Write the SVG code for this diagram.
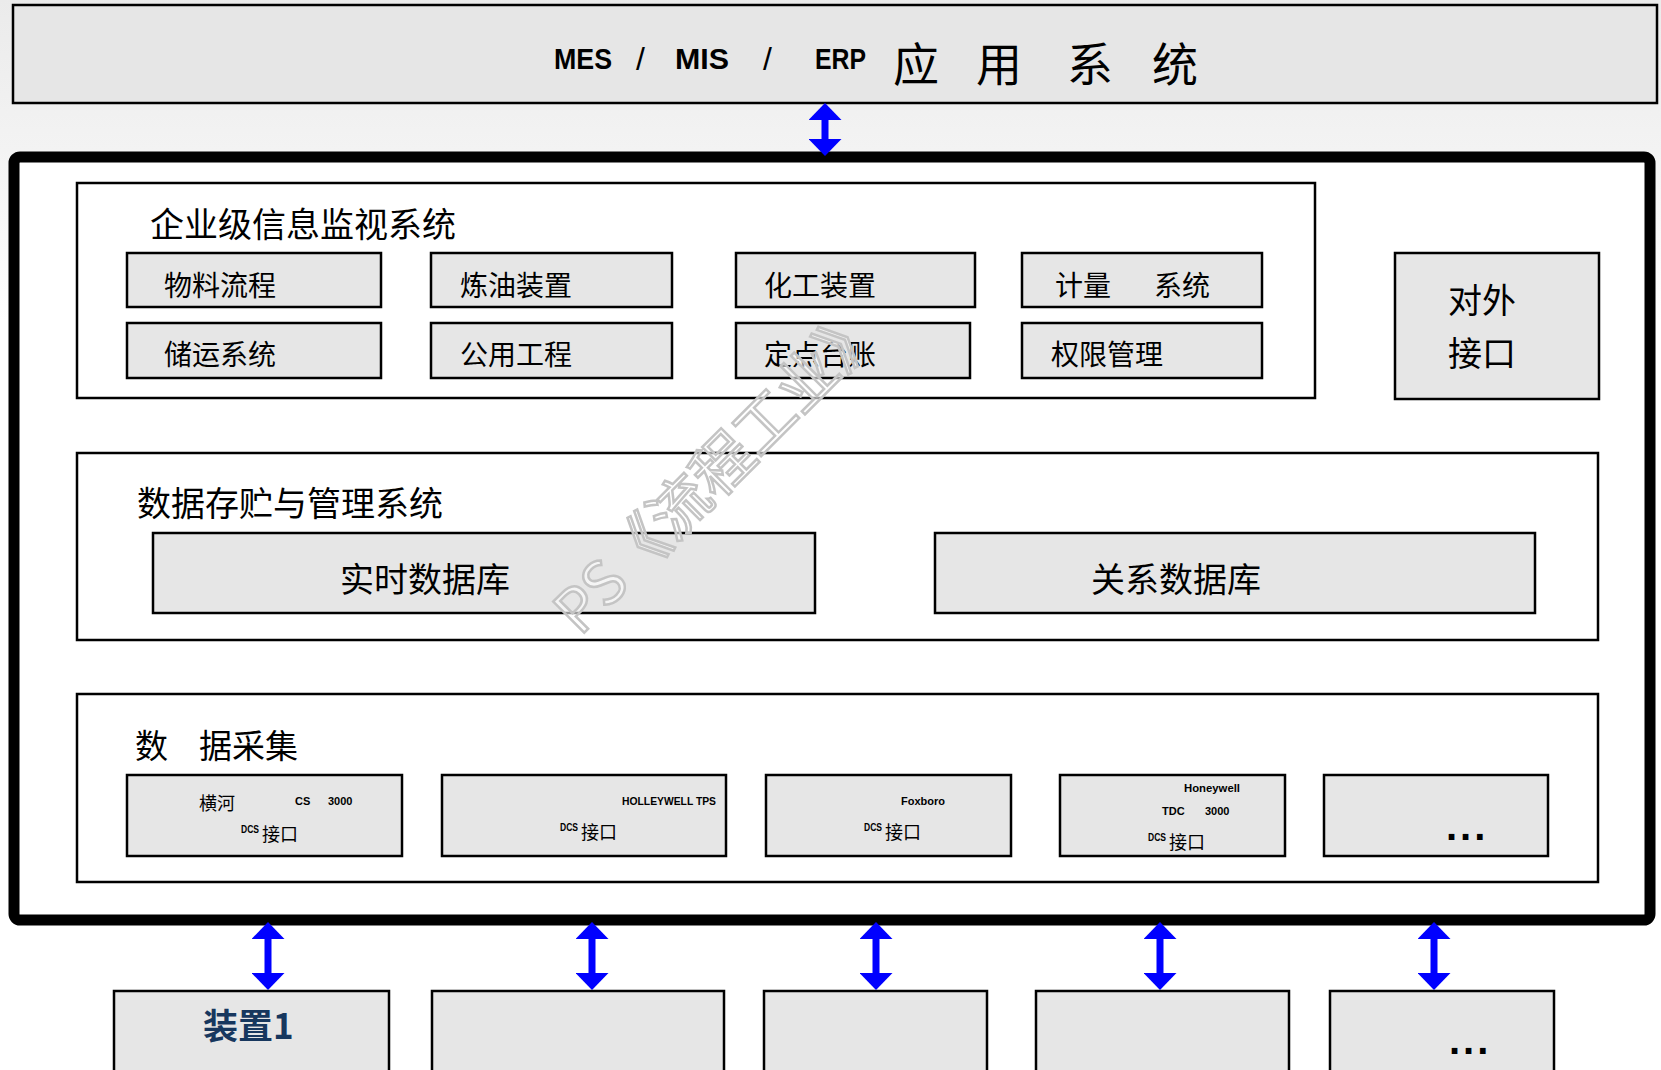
<svg xmlns="http://www.w3.org/2000/svg" width="1661" height="1070" viewBox="0 0 1661 1070">
<defs>
<linearGradient id="bg" x1="0" y1="0" x2="0" y2="1">
<stop offset="0" stop-color="#ebebeb"/>
<stop offset="0.14" stop-color="#f3f3f3"/>
<stop offset="0.3" stop-color="#ffffff"/>
</linearGradient>
<marker id="ah" viewBox="0 0 17 33" markerWidth="17" markerHeight="33" refX="0" refY="16.5" orient="auto-start-reverse" markerUnits="userSpaceOnUse">
<path d="M0,0 L17,16.5 L0,33 Z" fill="#0000ff"/>
</marker>
<style>
.box{fill:#e6e6e6;stroke:#000;stroke-width:2.5}
.sec{fill:#fff;stroke:#000;stroke-width:2.5}
.cjk{font-family:"Noto Sans CJK SC","Noto Sans",sans-serif;fill:#000}
.t34{font-size:34px}
.t28{font-size:28px}
.t17{font-size:18px}
.sm{font-family:"Liberation Sans",Arial,sans-serif;font-weight:bold;font-size:11px;fill:#000}
.lat{font-family:"Liberation Sans",Arial,sans-serif;font-weight:bold;font-size:30px;fill:#000}
.sl{font-family:"Liberation Sans",Arial,sans-serif;font-size:32px;fill:#000}
.arr{stroke:#0000ff;stroke-width:7;fill:none;marker-start:url(#ah);marker-end:url(#ah)}
.dots{font-family:"Liberation Sans",Arial,sans-serif;font-weight:bold;font-size:40px;letter-spacing:3px;fill:#000}
</style>
</defs>
<rect x="0" y="0" width="1661" height="1070" fill="url(#bg)"/>

<g id="top-system">
<rect class="box" x="13" y="5" width="1644" height="98"/>
<text class="lat" x="554" y="69" textLength="58" lengthAdjust="spacingAndGlyphs">MES</text>
<text class="sl" x="636" y="70">/</text>
<text class="lat" x="675" y="69" textLength="54" lengthAdjust="spacingAndGlyphs">MIS</text>
<text class="sl" x="763" y="70">/</text>
<text class="lat" x="815" y="69" textLength="51" lengthAdjust="spacingAndGlyphs">ERP</text>
<text class="cjk" style="font-size:46px" y="81"><tspan x="893">应</tspan><tspan x="976">用</tspan><tspan x="1067">系</tspan><tspan x="1152">统</tspan></text>
</g>

<g id="main-frame">
<rect x="14" y="157" width="1636" height="763" rx="6" fill="#fff" stroke="#000" stroke-width="11"/>
</g>

<g id="monitor-section">
<rect class="sec" x="77" y="183" width="1238" height="215"/>
<text class="cjk t34" x="150" y="237">企业级信息监视系统</text>
</g>
<g id="node-wuliao"><rect class="box" x="127" y="253" width="254" height="54"/><text class="cjk t28" x="164" y="296">物料流程</text></g>
<g id="node-lianyou"><rect class="box" x="431" y="253" width="241" height="54"/><text class="cjk t28" x="460" y="296">炼油装置</text></g>
<g id="node-huagong"><rect class="box" x="736" y="253" width="239" height="54"/><text class="cjk t28" x="764" y="296">化工装置</text></g>
<g id="node-jiliang"><rect class="box" x="1022" y="253" width="240" height="54"/><text class="cjk t28" y="296"><tspan x="1055">计量</tspan><tspan x="1154">系统</tspan></text></g>
<g id="node-chuyun"><rect class="box" x="127" y="323" width="254" height="55"/><text class="cjk t28" x="164" y="365">储运系统</text></g>
<g id="node-gongyong"><rect class="box" x="431" y="323" width="241" height="55"/><text class="cjk t28" x="460" y="365">公用工程</text></g>
<g id="node-dingdian"><rect class="box" x="736" y="323" width="234" height="55"/><text class="cjk t28" x="764" y="365">定点台账</text></g>
<g id="node-quanxian"><rect class="box" x="1022" y="323" width="240" height="55"/><text class="cjk t28" x="1051" y="365">权限管理</text></g>
<g id="node-duiwai"><rect class="box" x="1395" y="253" width="204" height="146"/><text class="cjk t34" x="1448" y="313">对外</text><text class="cjk t34" x="1448" y="366">接口</text></g>

<g id="storage-section">
<rect class="sec" x="77" y="453" width="1521" height="187"/>
<text class="cjk t34" x="137" y="516">数据存贮与管理系统</text>
</g>
<g id="node-realtime"><rect class="box" x="153" y="533" width="662" height="80"/><text class="cjk t34" x="340" y="592">实时数据库</text></g>
<g id="node-relational"><rect class="box" x="935" y="533" width="600" height="80"/><text class="cjk t34" x="1091" y="592">关系数据库</text></g>

<g id="acquisition-section">
<rect class="sec" x="77" y="694" width="1521" height="188"/>
<text class="cjk" style="font-size:33px" y="758"><tspan x="135">数</tspan><tspan x="199">据采集</tspan></text>
</g>
<g id="dcs-1"><rect class="box" x="127" y="775" width="275" height="81"/>
<text class="cjk t17" x="199" y="810">横河</text>
<text class="sm" x="295" y="805">CS</text><text class="sm" x="328" y="805">3000</text>
<text class="sm" x="241" y="833" textLength="18" lengthAdjust="spacingAndGlyphs">DCS</text><text class="cjk t17" x="262" y="841">接口</text></g>
<g id="dcs-2"><rect class="box" x="442" y="775" width="284" height="81"/>
<text class="sm" x="622" y="805" textLength="94" lengthAdjust="spacingAndGlyphs">HOLLEYWELL TPS</text>
<text class="sm" x="560" y="831" textLength="18" lengthAdjust="spacingAndGlyphs">DCS</text><text class="cjk t17" x="581" y="839">接口</text></g>
<g id="dcs-3"><rect class="box" x="766" y="775" width="245" height="81"/>
<text class="sm" x="901" y="805" textLength="44" lengthAdjust="spacingAndGlyphs">Foxboro</text>
<text class="sm" x="864" y="831" textLength="18" lengthAdjust="spacingAndGlyphs">DCS</text><text class="cjk t17" x="885" y="839">接口</text></g>
<g id="dcs-4"><rect class="box" x="1060" y="775" width="225" height="81"/>
<text class="sm" x="1184" y="792" textLength="56" lengthAdjust="spacingAndGlyphs">Honeywell</text>
<text class="sm" x="1162" y="815">TDC</text><text class="sm" x="1205" y="815">3000</text>
<text class="sm" x="1148" y="841" textLength="18" lengthAdjust="spacingAndGlyphs">DCS</text><text class="cjk t17" x="1169" y="849">接口</text></g>
<g id="dcs-5"><rect class="box" x="1324" y="775" width="224" height="81"/>
<text class="dots" x="1446" y="840">...</text></g>

<g id="device-1"><rect class="box" x="114" y="991" width="275" height="90"/><text x="203" y="1039" style="font-family:'Noto Sans CJK SC','Liberation Sans',sans-serif;font-weight:bold;font-size:35px;fill:#17375e">装置1</text></g>
<g id="device-2"><rect class="box" x="432" y="991" width="292" height="90"/></g>
<g id="device-3"><rect class="box" x="764" y="991" width="223" height="90"/></g>
<g id="device-4"><rect class="box" x="1036" y="991" width="253" height="90"/></g>
<g id="device-5"><rect class="box" x="1330" y="991" width="224" height="90"/><text class="dots" x="1449" y="1054">...</text></g>

<g id="connectors">
<line class="arr" x1="825" y1="120" x2="825" y2="139"/>
<line class="arr" x1="268" y1="939" x2="268" y2="973"/>
<line class="arr" x1="592" y1="939" x2="592" y2="973"/>
<line class="arr" x1="876" y1="939" x2="876" y2="973"/>
<line class="arr" x1="1160" y1="939" x2="1160" y2="973"/>
<line class="arr" x1="1434" y1="939" x2="1434" y2="973"/>
</g>

<g id="watermark">
<text x="733" y="484" transform="rotate(-45 733 484)" text-anchor="middle" style="font-family:'Noto Sans CJK SC','Noto Sans',sans-serif;font-size:60px;fill:#ffffff;fill-opacity:0.6;stroke:#c4c4c4;stroke-width:2.5">PS《流程工业》</text>
</g>
</svg>
